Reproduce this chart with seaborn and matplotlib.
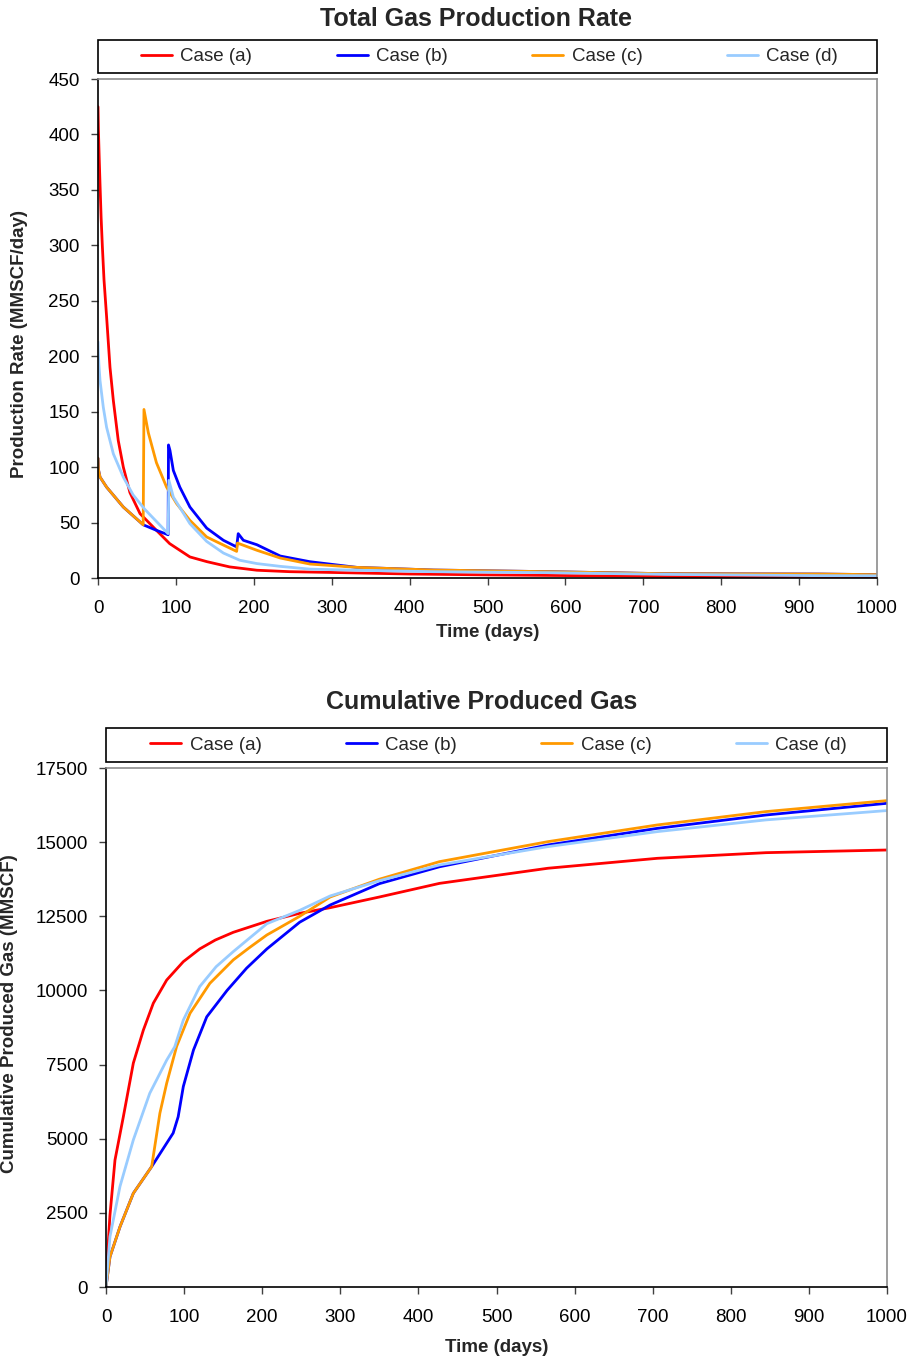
import numpy as np
import pandas as pd
import matplotlib
matplotlib.use("Agg")
import matplotlib.pyplot as plt
from matplotlib.patches import Rectangle
from matplotlib.lines import Line2D
import seaborn as sns

cases = ["Case (a)", "Case (b)", "Case (c)", "Case (d)"]
colors = ["#FF0000", "#0000FF", "#FF9900", "#99CCFF"]

# ---- Total gas production rate (MMSCF/day) ----
rate_t_a = [0, 0.5, 1.5, 2.6, 4, 5.6, 7.7, 11, 15.4, 19.7, 26, 32.5, 41, 54, 75, 92,
            118, 140, 169, 204, 246, 300, 400, 500, 600, 700, 800, 900, 1000]
rate_q_a = [425, 405, 380, 355, 325, 299, 269, 236, 190, 160, 124, 100, 77, 58, 43,
            31, 19, 14.7, 10, 7, 5.7, 5, 3.6, 2.8, 2.2, 1.5, 0.9, 0.6, 0.5]

rate_t_b = [0, 0.5, 2.6, 11, 32.5, 58, 75, 90, 90.5, 92.4, 96.7, 105, 118, 139.5,
            161, 178, 180, 186.6, 204, 234, 272, 332, 431, 579, 727, 925, 1000]
rate_q_b = [108, 98, 91, 82, 64, 48, 43, 39, 120, 115, 97, 82, 64, 45,
            34, 28, 40, 34, 30, 19.8, 14.7, 9.6, 7.2, 5.7, 3.9, 3.6, 3.0]

rate_t_c = [0, 0.5, 2.6, 11, 32.5, 58, 59, 64.6, 75, 88, 101, 118, 139.5, 161,
            178, 179, 204, 234, 272, 332, 431, 579, 727, 925, 1000]
rate_q_c = [108, 98, 91, 82, 64, 48, 152, 131, 104, 82, 67, 52, 37, 29.7,
            24, 31.5, 25, 18, 12.6, 9.6, 7.2, 5.7, 3.9, 3.6, 3.0]

rate_t_d = [0, 0.3, 1.2, 2.6, 6.8, 11, 19.7, 32.5, 45, 60, 90, 91, 96.7, 118, 139.5,
            161, 182, 204, 234, 272, 332, 431, 579, 727, 925, 1000]
rate_q_d = [213, 205, 192, 178, 154, 136, 112, 91, 75, 62, 40, 88, 73, 49, 33,
            22.5, 16, 13, 10.5, 8, 7, 5.7, 4.8, 3.3, 2.1, 2.0]

# ---- Cumulative produced gas (MMSCF) ----
cum_t_a = [0, 0.5, 2, 5, 11.5, 22.2, 35, 47.8, 60.6, 77.7, 99, 120, 140, 163, 206,
           248, 287, 350, 427, 566, 706, 845, 1000]
cum_q_a = [0, 300, 1100, 2400, 4280, 5740, 7550, 8660, 9570, 10350, 10970, 11400,
           11700, 11960, 12330, 12600, 12790, 13150, 13610, 14120, 14455, 14645, 14735]

cum_t_b = [0, 5.1, 17.9, 35, 58.5, 86, 92.4, 99, 112, 129, 155, 180, 206,
           248, 287, 350, 427, 566, 706, 845, 1000]
cum_q_b = [0, 1020, 2030, 3160, 4060, 5190, 5740, 6760, 7990, 9110, 10000, 10750,
           11400, 12300, 12880, 13600, 14170, 14905, 15465, 15915, 16310]

cum_t_c = [0, 5.1, 17.9, 35, 58.5, 69, 77.7, 90.4, 107.6, 133, 163, 184, 206,
           248, 287, 350, 427, 566, 706, 845, 1000]
cum_q_c = [0, 1020, 2030, 3160, 4060, 5860, 6870, 8110, 9230, 10240, 11030, 11450,
           11870, 12500, 13150, 13750, 14342, 15017, 15580, 16030, 16400]

cum_t_d = [0, 5.1, 17.9, 35, 56, 77.7, 88, 99, 120, 141, 163, 206, 248, 287,
           350, 427, 566, 706, 845, 1000]
cum_q_d = [0, 1700, 3390, 4960, 6530, 7650, 8100, 9000, 10130, 10800, 11310,
           12250, 12700, 13185, 13700, 14230, 14850, 15355, 15750, 16065]


def long_frame(series):
    parts = []
    for name, (t, v) in zip(cases, series):
        parts.append(pd.DataFrame({"t": t, "v": v, "case": name}))
    return pd.concat(parts, ignore_index=True)


rate_df = long_frame([(rate_t_a, rate_q_a), (rate_t_b, rate_q_b),
                      (rate_t_c, rate_q_c), (rate_t_d, rate_q_d)])
cum_df = long_frame([(cum_t_a, cum_q_a), (cum_t_b, cum_q_b),
                     (cum_t_c, cum_q_c), (cum_t_d, cum_q_d)])

sns.set_theme(style="white")
plt.rcParams["font.family"] = ["Liberation Sans", "DejaVu Sans"]

W, H = 914, 1364
fig = plt.figure(figsize=(W / 100, H / 100), dpi=100)
palette = dict(zip(cases, colors))


def px_axes(x0, x1, y0, y1):
    return fig.add_axes([x0 / W, 1 - y1 / H, (x1 - x0) / W, (y1 - y0) / H])


def style_axes(ax, ymax, ystep):
    ax.set_xlim(0, 1000)
    ax.set_ylim(0, ymax)
    ax.set_xticks(np.arange(0, 1001, 100))
    ax.set_yticks(np.arange(0, ymax + 1, ystep))
    for s in ["top", "right"]:
        ax.spines[s].set_color("#8c8c8c")
        ax.spines[s].set_linewidth(1.2)
    for s in ["left", "bottom"]:
        ax.spines[s].set_color("black")
        ax.spines[s].set_linewidth(1.2)
    ax.tick_params(axis="both", which="major", direction="out", length=5,
                   width=1, color="#404040", labelsize=13.5, labelcolor="black",
                   bottom=True, left=True, top=False, right=False)
    ax.tick_params(axis="x", pad=11)
    ax.tick_params(axis="y", pad=8)
    ax.grid(False)


def legend_box(x0, x1, y0, y1):
    fig.patches.append(Rectangle((x0 / W, 1 - y1 / H), (x1 - x0) / W, (y1 - y0) / H,
                                 transform=fig.transFigure, fill=False,
                                 edgecolor="black", linewidth=1.2))
    handles = [Line2D([0], [0], color=c, lw=2) for c in colors]
    fig.legend(handles, cases, loc="center",
               bbox_to_anchor=((x0 + x1) / 2 / W + 2 / W, 1 - (y0 + y1) / 2 / H),
               ncol=4, frameon=False, fontsize=13.5, handlelength=1.65,
               handletextpad=0.45, columnspacing=4.5)


# Top: production rate
ax1 = px_axes(98, 877, 79, 578)
sns.lineplot(data=rate_df, x="t", y="v", hue="case", hue_order=cases,
             palette=palette, estimator=None, sort=False, linewidth=2,
             legend=False, ax=ax1)
style_axes(ax1, 450, 50)
ax1.set_xlabel("Time (days)", fontsize=13.5, fontweight="bold")
ax1.set_ylabel("Production Rate (MMSCF/day)", fontsize=13.5, fontweight="bold")
ax1.xaxis.set_label_coords(0.5, (578 - 632) / 499)
ax1.xaxis.label.set_va("center")
ax1.yaxis.set_label_coords((20 - 98) / 779, (578 - 343.5) / 499)
ax1.yaxis.label.set_va("center")
fig.text(476 / W, 1 - 19 / H, "Total Gas Production Rate", ha="center",
         va="center", fontsize=18, fontweight="bold")
legend_box(98, 877, 40, 73)

# Bottom: cumulative produced gas
ax2 = px_axes(106, 887, 768, 1287)
sns.lineplot(data=cum_df, x="t", y="v", hue="case", hue_order=cases,
             palette=palette, estimator=None, sort=False, linewidth=2,
             legend=False, ax=ax2)
style_axes(ax2, 17500, 2500)
ax2.set_xlabel("Time (days)", fontsize=13.5, fontweight="bold")
ax2.set_ylabel("Cumulative Produced Gas (MMSCF)", fontsize=13.5, fontweight="bold")
ax2.xaxis.set_label_coords(0.5, (1287 - 1348) / 519)
ax2.xaxis.label.set_va("center")
ax2.yaxis.set_label_coords((10 - 106) / 781, (1287 - 1014) / 519)
ax2.yaxis.label.set_va("center")
fig.text(482 / W, 1 - 702 / H, "Cumulative Produced Gas", ha="center",
         va="center", fontsize=18, fontweight="bold")
legend_box(106, 887, 728, 762)

fig.savefig("out.png", dpi=100)
